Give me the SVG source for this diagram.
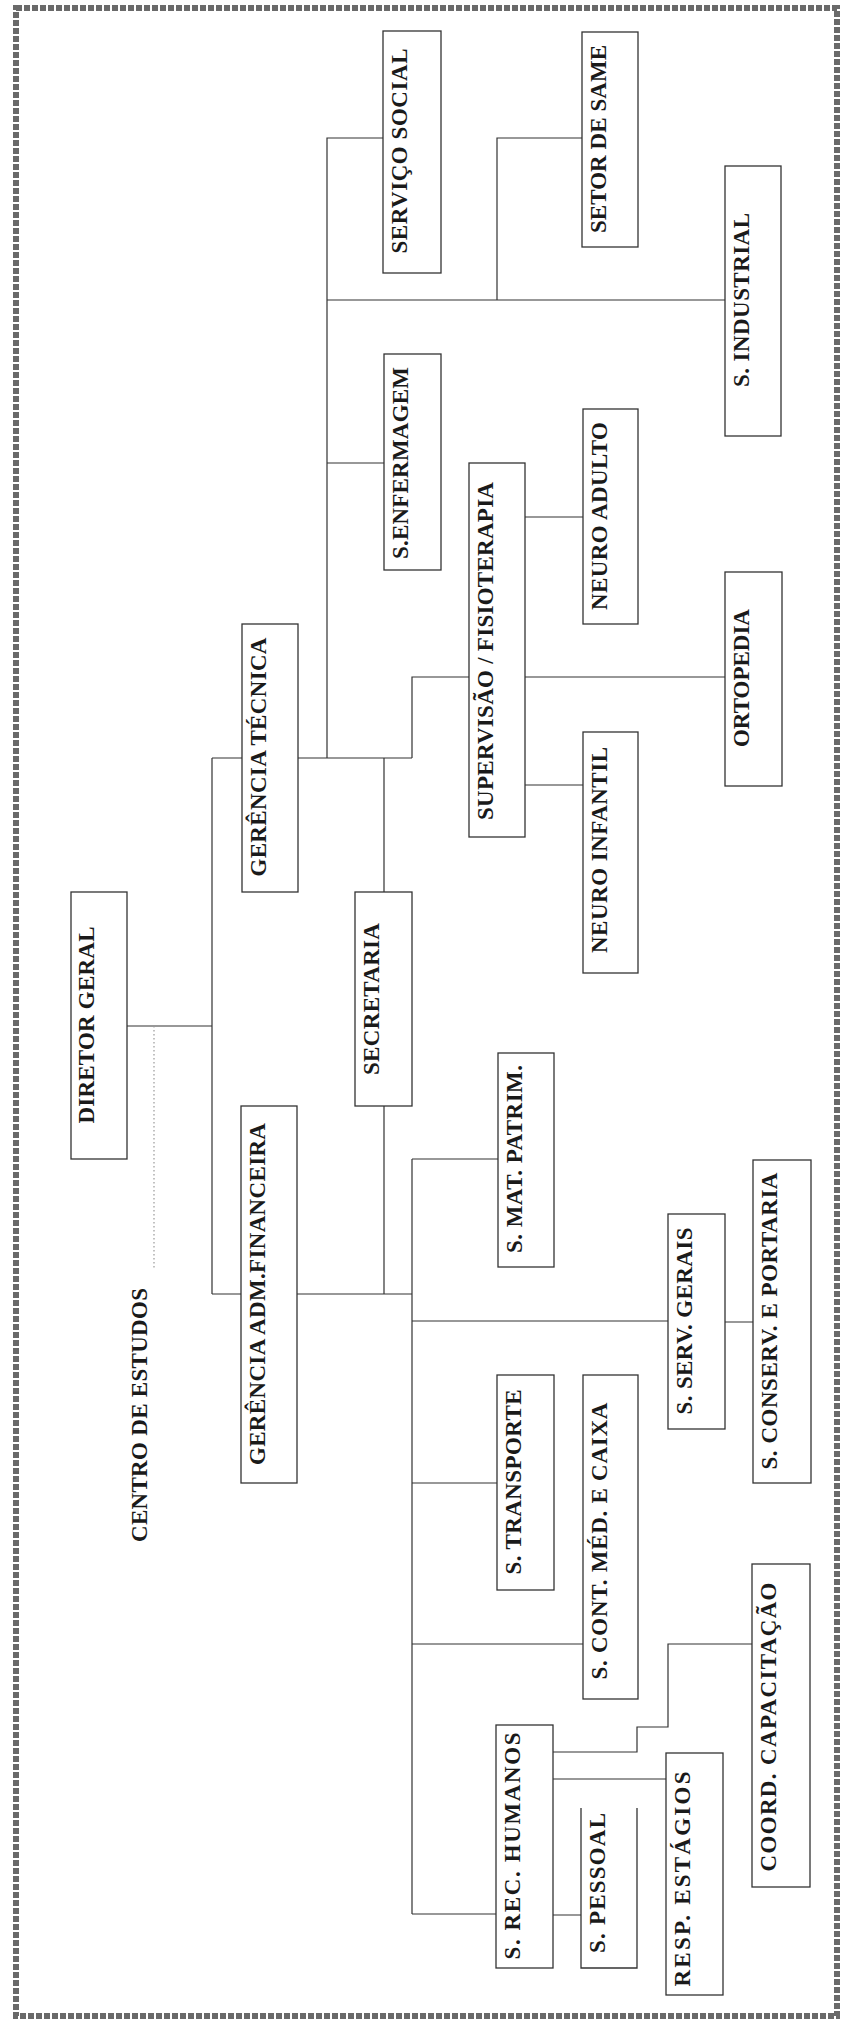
<svg xmlns="http://www.w3.org/2000/svg" width="841" height="2020" viewBox="0 0 841 2020">
<style>
.box{fill:#fff;stroke:#333;stroke-width:1.3}
.open{fill:none;stroke:#333;stroke-width:1.3}
.lbl{font-family:"Liberation Serif","Times New Roman",serif;font-weight:bold;font-size:23px;fill:#1a1a1a;text-anchor:middle}
.con{fill:none;stroke:#333;stroke-width:1.2}
.dot{fill:none;stroke:#999;stroke-width:1.2;stroke-dasharray:1.5 2.5}
.frame{fill:none;stroke:#6a6a6a;stroke-width:6;stroke-dasharray:6 2}
</style>
<rect width="841" height="2020" fill="#fff"/>
<rect class="frame" x="16" y="8" width="821" height="2008"/>

<g id="connectors">
  <path class="con" d="M127 1026H212M212 758V1294M212 758H242M212 1294H241"/>
  <path class="dot" d="M154 1026V1268"/>
  <path class="con" d="M298 758H412M412 758V677H469"/>
  <path class="con" d="M327 758V138H383M327 463H384M327 300H725M497 300V138H582"/>
  <path class="con" d="M384 758V892M384 1106V1294"/>
  <path class="con" d="M525 517H583M525 677H725M525 785H583"/>
  <path class="con" d="M297 1294H412M412 1159V1914M412 1159H498"/>
  <path class="con" d="M412 1321H668M725 1322H753"/>
  <path class="con" d="M412 1483H497M412 1644H583"/>
  <path class="con" d="M412 1914H496M553 1915H581M553 1779H666"/>
  <path class="con" d="M553 1752H637V1727H668V1644H752"/>
</g>

<g id="servico-social"><rect class="box" x="383" y="31" width="58" height="242"/><text class="lbl" transform="translate(407 151) rotate(-90)" textLength="205" lengthAdjust="spacing">SERVIÇO SOCIAL</text></g>
<g id="setor-de-same"><rect class="box" x="582" y="32" width="56" height="215"/><text class="lbl" transform="translate(606 139) rotate(-90)" textLength="188" lengthAdjust="spacing">SETOR DE SAME</text></g>
<g id="s-industrial"><rect class="box" x="725" y="166" width="56" height="270"/><text class="lbl" transform="translate(749 300) rotate(-90)" textLength="174" lengthAdjust="spacing">S. INDUSTRIAL</text></g>
<g id="s-enfermagem"><rect class="box" x="384" y="354" width="57" height="216"/><text class="lbl" transform="translate(408 463) rotate(-90)" textLength="192" lengthAdjust="spacing">S.ENFERMAGEM</text></g>
<g id="neuro-adulto"><rect class="box" x="583" y="409" width="55" height="215"/><text class="lbl" transform="translate(607 516) rotate(-90)" textLength="188" lengthAdjust="spacing">NEURO ADULTO</text></g>
<g id="supervisao"><rect class="box" x="469" y="463" width="56" height="374"/><text class="lbl" transform="translate(493 651) rotate(-90)" textLength="338" lengthAdjust="spacing">SUPERVISÃO / FISIOTERAPIA</text></g>
<g id="ortopedia"><rect class="box" x="725" y="572" width="57" height="214"/><text class="lbl" transform="translate(749 678) rotate(-90)" textLength="138" lengthAdjust="spacing">ORTOPEDIA</text></g>
<g id="gerencia-tecnica"><rect class="box" x="242" y="624" width="56" height="268"/><text class="lbl" transform="translate(266 757) rotate(-90)" textLength="239" lengthAdjust="spacing">GERÊNCIA TÉCNICA</text></g>
<g id="neuro-infantil"><rect class="box" x="583" y="732" width="55" height="241"/><text class="lbl" transform="translate(607 850) rotate(-90)" textLength="206" lengthAdjust="spacing">NEURO INFANTIL</text></g>
<g id="diretor-geral"><rect class="box" x="71" y="892" width="56" height="267"/><text class="lbl" transform="translate(94 1025) rotate(-90)" textLength="197" lengthAdjust="spacing">DIRETOR GERAL</text></g>
<g id="secretaria"><rect class="box" x="355" y="892" width="57" height="214"/><text class="lbl" transform="translate(379 999) rotate(-90)" textLength="152" lengthAdjust="spacing">SECRETARIA</text></g>
<g id="gerencia-adm"><rect class="box" x="241" y="1106" width="56" height="377"/><text class="lbl" transform="translate(265 1294) rotate(-90)" textLength="342" lengthAdjust="spacing">GERÊNCIA ADM.FINANCEIRA</text></g>
<g id="s-mat-patrim"><rect class="box" x="498" y="1053" width="56" height="214"/><text class="lbl" transform="translate(522 1159) rotate(-90)" textLength="188" lengthAdjust="spacing">S. MAT. PATRIM.</text></g>
<g id="s-serv-gerais"><rect class="box" x="668" y="1214" width="57" height="215"/><text class="lbl" transform="translate(692 1321) rotate(-90)" textLength="187" lengthAdjust="spacing">S. SERV. GERAIS</text></g>
<g id="s-conserv"><rect class="box" x="753" y="1160" width="58" height="323"/><text class="lbl" transform="translate(777 1321) rotate(-90)" textLength="297" lengthAdjust="spacing">S. CONSERV. E PORTARIA</text></g>
<g id="centro-de-estudos"><text class="lbl" transform="translate(147 1415) rotate(-90)" textLength="254" lengthAdjust="spacing">CENTRO DE ESTUDOS</text></g>
<g id="s-transporte"><rect class="box" x="497" y="1375" width="57" height="215"/><text class="lbl" transform="translate(521 1482) rotate(-90)" textLength="185" lengthAdjust="spacing">S. TRANSPORTE</text></g>
<g id="s-cont-med"><rect class="box" x="583" y="1375" width="55" height="324"/><text class="lbl" transform="translate(607 1541) rotate(-90)" textLength="277" lengthAdjust="spacing">S. CONT. MÉD. E CAIXA</text></g>
<g id="coord-capacitacao"><rect class="box" x="752" y="1564" width="58" height="323"/><text class="lbl" transform="translate(776 1727) rotate(-90)" textLength="289" lengthAdjust="spacing">COORD. CAPACITAÇÃO</text></g>
<g id="s-rec-humanos"><rect class="box" x="496" y="1725" width="57" height="243"/><text class="lbl" transform="translate(520 1846) rotate(-90)" textLength="227" lengthAdjust="spacing">S. REC. HUMANOS</text></g>
<g id="s-pessoal"><path class="open" d="M581 1808V1968H637V1808"/><text class="lbl" transform="translate(605 1883) rotate(-90)" textLength="140" lengthAdjust="spacing">S. PESSOAL</text></g>
<g id="resp-estagios"><rect class="box" x="666" y="1753" width="57" height="242"/><text class="lbl" transform="translate(690 1879) rotate(-90)" textLength="215" lengthAdjust="spacing">RESP.  ESTÁGIOS</text></g>
</svg>
